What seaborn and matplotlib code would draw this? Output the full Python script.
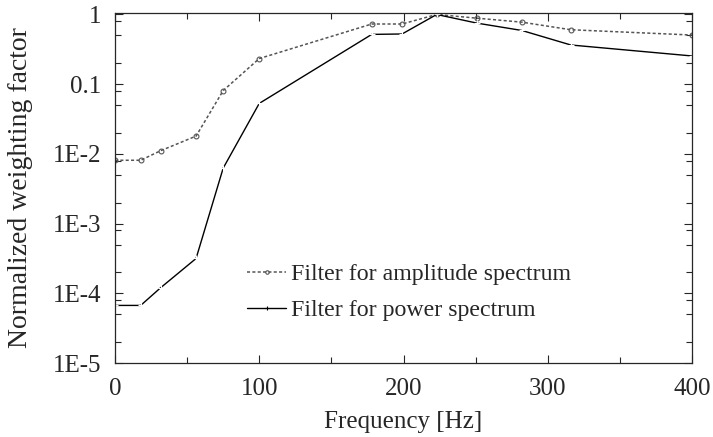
import numpy as np
import pandas as pd
import matplotlib
matplotlib.use("Agg")
import matplotlib.pyplot as plt
import seaborn as sns
from matplotlib.ticker import FixedLocator, NullFormatter, LogLocator
from matplotlib.lines import Line2D

# Data
freq_amp = [0, 17.8, 31.6, 56.2, 75, 100, 178, 199, 223, 251, 282, 316, 400]
amp_vals = [0.0081, 0.0081, 0.0111, 0.018, 0.081, 0.233, 0.73, 0.73, 1.0, 0.885, 0.776, 0.604, 0.507]
freq_pow = [0, 17.8, 31.6, 56.2, 75, 100, 178, 199, 223, 251, 282, 316, 400]
pow_vals = [6.7e-5, 6.7e-5, 1.2e-4, 3.16e-4, 6.25e-3, 0.053, 0.518, 0.525, 1.0, 0.751, 0.59, 0.365, 0.254]
yticks = [1e-5, 1e-4, 1e-3, 1e-2, 0.1, 1]
ytick_labels = ["1E-5", "1E-4", "1E-3", "1E-2", "0.1", "1"]
xticks = [0, 100, 200, 300, 400]
label_amp = "Filter for amplitude spectrum"
label_pow = "Filter for power spectrum"

sns.set_style("ticks")
plt.rcParams["font.family"] = ["Liberation Serif", "DejaVu Serif"]

fig = plt.figure(figsize=(7.13, 4.37), dpi=100)
ax = fig.add_axes([115/713, 1-363/437, 577/713, 350/437])

df_amp = pd.DataFrame({"f": freq_amp, "v": amp_vals})
df_pow = pd.DataFrame({"f": freq_pow, "v": pow_vals})

amp_style = dict(color="#555555", linestyle=(0, (2, 1.5)), linewidth=1.1, marker="o",
                 markersize=3.5, markerfacecolor="none", markeredgecolor="#555555",
                 markeredgewidth=0.8)
pow_style = dict(color="black", linestyle="-", linewidth=1.0, marker="+",
                 markersize=4, markeredgewidth=0.8)

sns.lineplot(data=df_amp, x="f", y="v", ax=ax, sort=False, legend=False, **amp_style)
sns.lineplot(data=df_pow, x="f", y="v", ax=ax, sort=False, legend=False, **pow_style)

ax.set_yscale("log")
ax.set_xlim(0, 400)
ax.set_ylim(1e-5, 1.05)
ax.set_yticks(yticks)
ax.set_yticklabels(ytick_labels)
ax.yaxis.set_minor_locator(LogLocator(base=10, subs=(2, 5, 8)))
ax.yaxis.set_minor_formatter(NullFormatter())
ax.set_xticks(xticks)
ax.xaxis.set_minor_locator(FixedLocator([50, 150, 250, 350]))

ax.tick_params(which="both", direction="in", top=True, right=True, labelsize=18)
ax.tick_params(which="major", length=6, width=0.8)
ax.tick_params(which="minor", length=4, width=0.8)
ax.tick_params(axis="x", which="major", pad=11)
ax.tick_params(axis="y", which="major", pad=10)
for s in ax.spines.values():
    s.set_linewidth(0.9)

ax.set_xlabel("Frequency [Hz]", fontsize=18, labelpad=8)
ax.set_ylabel("Normalized weighting factor", fontsize=20, labelpad=14)

handles = [Line2D([], [], markersize=2.5, **{k: v for k, v in amp_style.items() if k != "markersize"}),
           Line2D([], [], markersize=3, **{k: v for k, v in pow_style.items() if k != "markersize"})]
leg = ax.legend(handles, [label_amp, label_pow], loc="upper left",
                bbox_to_anchor=((247-115)/577, 0.285), frameon=False,
                fontsize=17.2, handlelength=1.65, handletextpad=0.2, labelspacing=0.6,
                borderpad=0, borderaxespad=0)

fig.savefig("out.png", dpi=100)
